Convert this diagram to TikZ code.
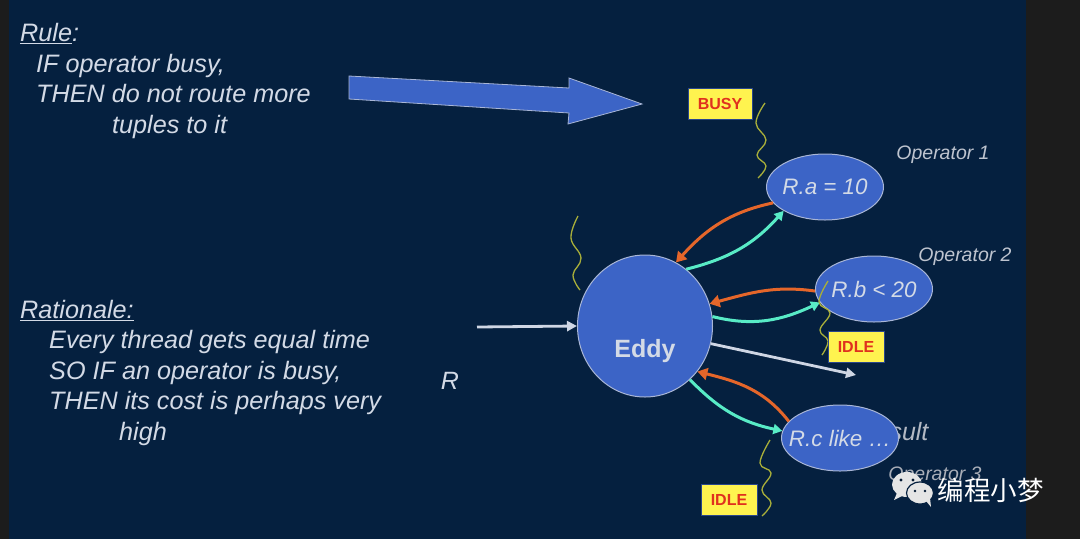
\documentclass[tikz,border=0pt]{standalone}
\usepackage{fontspec}
\setmainfont{Liberation Sans}
\newfontfamily\cjk{Noto Sans CJK SC}
\usetikzlibrary{arrows.meta,shapes.geometric,positioning}
\definecolor{slidebg}{HTML}{05203F}
\definecolor{stripbg}{HTML}{1C1C1C}
\definecolor{opblue}{HTML}{3C64C6}
\definecolor{opline}{HTML}{A9B6D6}
\definecolor{slidetext}{HTML}{D3DAE6}
\definecolor{tealflow}{HTML}{58EBC6}
\definecolor{orangeflow}{HTML}{E5662A}
\definecolor{wavy}{HTML}{A8AE3A}
\definecolor{flagyellow}{HTML}{FFF34F}
\definecolor{flagred}{HTML}{E0301E}
\tikzset{
  bodytext/.style={font=\fontsize{25.2}{30.5}\selectfont\itshape, text=slidetext, align=left, anchor=north west, inner sep=0pt},
  optitle/.style={font=\fontsize{19.5}{22}\selectfont\itshape, text=slidetext!90!black},
  opnode/.style={draw=opline, fill=opblue, line width=1pt, ellipse, inner sep=0pt, minimum width=117pt, minimum height=66pt, font=\fontsize{22.4}{24}\selectfont\itshape, text=slidetext},
  flagbox/.style={draw=opblue!70!black, fill=flagyellow, line width=0.7pt, minimum width=64pt, minimum height=31pt, inner sep=0pt, font=\fontsize{16}{18}\selectfont\bfseries, text=flagred},
  teal/.style={draw=tealflow, line width=3pt, -{Triangle[length=9pt,width=10pt]}},
  orange/.style={draw=orangeflow, line width=3pt, -{Triangle[length=10pt,width=12pt]}},
  whiteflow/.style={draw=slidetext!110!white, line width=2.8pt, -{Triangle[length=10pt,width=10pt]}},
  wave/.style={draw=wavy, line width=1.3pt, smooth, tension=0.7},
}
\begin{document}
\begin{tikzpicture}[x=1pt,y=-1pt]
\useasboundingbox (0,0) rectangle (1080,539);
\fill[slidebg] (0,0) rectangle (1080,539);
\fill[stripbg] (0,0) rectangle (9,539);
\fill[stripbg] (1026,0) rectangle (1080,539);
% left texts
\node[bodytext] (ruletext) at (20,23.5) {\underline{Rule}:\\
  \hspace*{16pt}IF operator busy,\\
  \hspace*{16pt}THEN do not route more\\
  \hspace*{92pt}tuples to it};
\node[bodytext] (rationale) at (20,300) {\underline{Rationale:}\\
  \hspace*{29pt}Every thread gets equal time\\
  \hspace*{29pt}SO IF an operator is busy,\\
  \hspace*{29pt}THEN its cost is perhaps very\\
  \hspace*{99pt}high};
\node[font=\fontsize{25}{30}\selectfont\itshape, text=slidetext] (rlabel) at (450,381) {R};
% big arrow
\draw[fill=opblue, draw=opline, line width=0.8pt] (349,76) -- (569,88) -- (569,78) -- (642,104) -- (568,124) -- (569,113) -- (349,99) -- cycle;
% labels behind the operators
\node[font=\fontsize{25}{30}\selectfont\itshape, text=slidetext!85!black] (resulttext) at (893,432) {Result};
\node[optitle, text=slidetext!80!black] (opctitle) at (935,476) {Operator 3};
\node[optitle] (opatitle) at (943,155) {Operator 1};
\node[optitle] (opbtitle) at (965,257) {Operator 2};
% operators
\node[draw=opline, fill=opblue, line width=1pt, ellipse, inner sep=0pt, minimum width=135pt, minimum height=142pt] (eddy) at (645,326) {};
\node[font=\fontsize{25}{28}\selectfont\bfseries, text=slidetext] (eddytext) at (645,351) {Eddy};
\node[opnode] (opa) at (825,187) {\makebox[0pt]{R.a = 10}};
\node[opnode] (opb) at (874,289) {\makebox[0pt]{R.b < 20}};
\node[opnode] (opc) at (840,438) {\makebox[0pt]{R.c like …}};
% flows
\coordinate (rstart) at (477,327);
\coordinate (resultend) at (856,375);
\draw[whiteflow] (rstart) -- (eddy.180);
\draw[whiteflow] (eddy.-15) -- (resultend);
\draw[orange] (opa.197) to[out=192,in=48] (eddy.64);
\draw[teal] (eddy.54) to[out=14,in=228] (opa.210);
\draw[orange] (opb.182) to[out=172,in=15] (eddy.19);
\draw[teal] (eddy.8.5) to[out=-14,in=205] (opb.194);
\draw[orange] (opc.162) to[out=128,in=-14] (eddy.-41);
\draw[teal] (eddy.-50) to[out=-46,in=168] (opc.173);
% wavy lines
\draw[wave] plot coordinates {(765,103) (756,123) (766,140) (757,155) (766,166) (758,178)};
\draw[wave] plot coordinates {(578,216) (571,238) (581,258) (573,275) (580,290)};
\draw[wave] plot coordinates {(828,281) (819,302) (830,313) (820,330) (828,341) (822,355)};
\draw[wave] plot coordinates {(770,440) (760,463) (771,473) (762,490) (771,503) (762,516)};
% flags
\node[flagbox] (busyflag) at (720,103.5) {BUSY};
\node[flagbox, minimum width=56pt] (idleb) at (856,346.5) {IDLE};
\node[flagbox, minimum width=56pt] (idlec) at (729,499.5) {IDLE};
% watermark
\fill[white!90!black] (907,484.5) ellipse (15pt and 12.5pt);
\fill[white!90!black] (897,493) -- (894,500) -- (904,495) -- cycle;
\draw[fill=white!90!black, draw=slidebg, line width=1.2pt] (920,493) ellipse (13.5pt and 11pt);
\fill[white!90!black] (926,501) -- (931,507) -- (930,498) -- cycle;
\fill[slidebg!80!black] (901,480) circle (1.7pt) (913,480) circle (1.7pt) (915,491) circle (1.4pt) (925,491) circle (1.4pt);
\node[font=\cjk\fontsize{26.5}{28}\selectfont, text=white] (markname) at (990.5,490) {编程小梦};
\end{tikzpicture}
\end{document}
